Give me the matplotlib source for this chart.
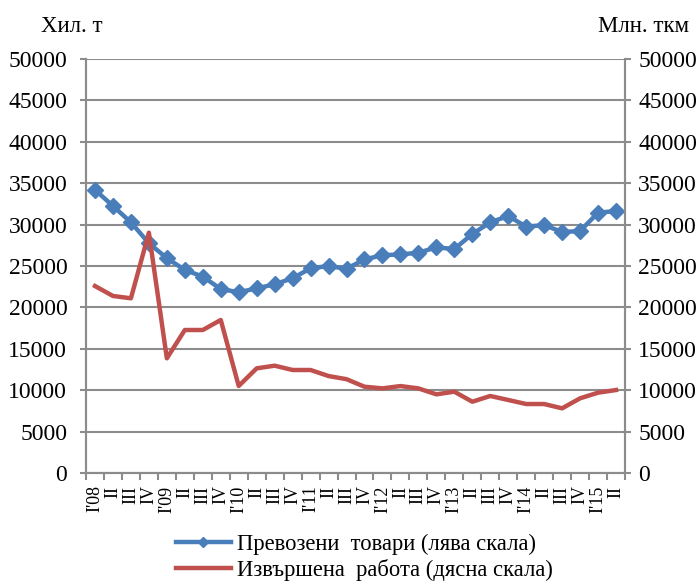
import matplotlib
matplotlib.use("Agg")
import matplotlib.pyplot as plt
from matplotlib.lines import Line2D
import numpy as np

plt.rcParams['font.family'] = ['Liberation Serif', 'DejaVu Serif']

quarters = ["I'08", "II", "III", "IV", "I'09", "II", "III", "IV",
            "I'10", "II", "III", "IV", "I'11", "II", "III", "IV",
            "I'12", "II", "III", "IV", "I'13", "II", "III", "IV",
            "I'14", "II", "III", "IV", "I'15", "II"]

goods = [34200, 32250, 30270, 27750, 25950, 24520, 23720, 22220,
         21830, 22300, 22790, 23520, 24720, 25000, 24660, 25800,
         26300, 26400, 26600, 27250, 27050, 28860, 30270, 31040,
         29750, 29950, 29100, 29230, 31440, 31640]

work = [22580, 21380, 21100, 29020, 13850, 17270, 17270, 18480,
        10510, 12640, 12960, 12440, 12440, 11710, 11330, 10420,
        10220, 10500, 10220, 9500, 9820, 8610, 9300, 8820,
        8330, 8330, 7810, 9020, 9700, 10020]

label_goods = "Превозени  товари (лява скала)"
label_work = "Извършена  работа (дясна скала)"
left_title = "Хил. т"
right_title = "Млн. ткм"

blue = "#4a7ebb"
red = "#c0504d"
gray = "#8c8c8c"

fig = plt.figure(figsize=(7, 5.82), dpi=100)
ax = fig.add_axes([86/700, 1-473/582, (625-86)/700, (473-59)/582])
ax2 = ax.twinx()

x = np.arange(len(quarters))
ax.plot(x, goods, color=blue, lw=3.2, marker='D', markersize=8.5, zorder=3)
ax2.plot(x, work, color=red, lw=3.2, zorder=3)

yt = np.arange(0, 50001, 5000)
for a, p in ((ax, 9), (ax2, 5)):
    a.set_ylim(0, 50000)
    a.set_yticks(yt)
    a.set_xlim(-0.5, len(quarters) - 0.5)
    for s in a.spines.values():
        s.set_color(gray)
        s.set_linewidth(1.5)
    a.spines['top'].set_visible(False)
    a.tick_params(axis='y', colors=gray, length=4.5, width=1.5, labelsize=17,
                  labelcolor='black', pad=p)

ax.set_yticklabels([str(v) for v in yt])
ax2.set_yticklabels([str(v) for v in yt])
ax.grid(axis='y', color=gray, lw=1.5)
ax.set_axisbelow(True)

ax.set_xticks(x)
ax.set_xticklabels(quarters, rotation=90, fontsize=13)
ax.set_xticks(np.arange(-0.5, len(quarters), 1), minor=True)
ax.tick_params(axis='x', which='major', length=0, pad=9)
ax.tick_params(axis='x', which='minor', length=5, width=1.5, color=gray)

fig.text(72/700, 1-27/582, left_title, fontsize=16.5, ha='center', va='center')
fig.text(643/700, 1-27/582, right_title, fontsize=16.5, ha='center', va='center')

handles = [Line2D([], [], color=blue, lw=3.2, marker='D', markersize=5),
           Line2D([], [], color=red, lw=3.2)]
fig.legend(handles, [label_goods, label_work], loc='upper center',
           bbox_to_anchor=(0.52, 0.103), frameon=False, fontsize=16.3,
           handlelength=2.45, labelspacing=0.2, handletextpad=0.25,
           borderpad=0)

fig.savefig("out.png", dpi=100)
